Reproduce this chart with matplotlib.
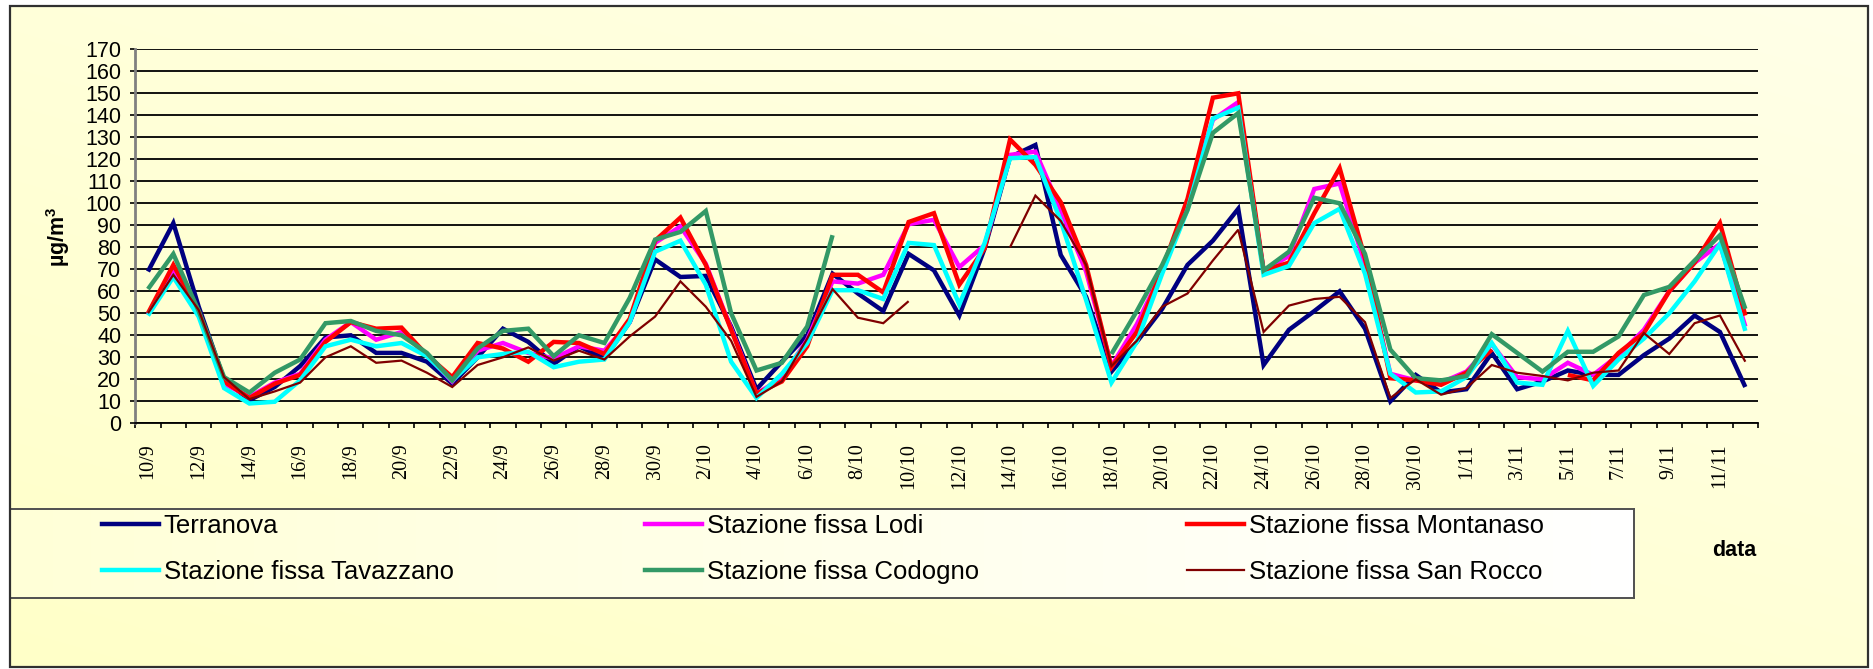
import numpy as np
import matplotlib
matplotlib.use("Agg")
import matplotlib.pyplot as plt
from matplotlib.patches import Rectangle
from matplotlib.lines import Line2D

plt.rcParams["mathtext.fontset"] = "custom"
plt.rcParams["mathtext.rm"] = "Liberation Sans"
plt.rcParams["mathtext.bf"] = "Liberation Sans:bold"

nan = np.nan

# ---- categories (daily, 10/9 .. 12/11) ----
dates = (["%d/9" % d for d in range(10, 31)] +
         ["%d/10" % d for d in range(1, 32)] +
         ["%d/11" % d for d in range(1, 13)])

# ---- series values (µg/m³) ----
terranova = [69, 91, 53, 20, 10.5, 16.5, 26, 39, 40, 32, 32, 28, 18, 30, 43, 37, 27, 35, 29.5, 46,
             74.5, 66.5, 67, 44, 15.5, 28, 40, 68, 59, 51, 77, 69.5, 49, 79.5, 121, 126.5, 76.5, 57.5, 23.5, 37,
             52, 72, 83, 97.5, 26.5, 42.5, 51, 60, 43, 10, 22, 14, 15.5, 32, 15.5, 19, 24, 22, 22, 31,
             38.5, 49, 41.5, 16.5]
lodi = [49.5, 69.5, 50, 18, 12, 18.5, 22.5, 38, 46, 38, 41.5, 31, 19, 33, 36.5, 32, 29.5, 35, 33, 46,
        82, 89.5, 72.5, 43, 13.5, 20.5, 38, 64.5, 63.5, 67.5, 90.5, 92.5, 71, 81, 122, 123.5, 97, 69, 26, 45,
        69, 100, 138, 146, 69.5, 76, 106.5, 109, 72, 22.5, 19.5, 18.5, 23.5, 36, 21, 20, 27.5, 22, 31, 42.5,
        60, 73, 81.5, 44]
montanaso = [50, 72, 51, 19, 11.5, 18, 22, 37, 46, 43, 43.5, 31, 21, 36.5, 34, 28, 37, 36.5, 31.5, 47.5,
             83, 93.5, 72, 42.5, 13.5, 19, 35, 67.5, 67.5, 59.5, 91.5, 95.5, 63, 79.5, 129, 117.5, 100.5, 72, 25.5, 41.5,
             70, 102, 148, 150, 69.5, 73, 95.5, 116, 75, 20.5, 19.5, 17.5, 23, 33.5, nan, nan, 22, 19.5, 32, 41,
             60, 73, 91, 49]
tavazzano = [49, 66.5, 48.5, 16, 9, 9.8, 19.5, 35, 38, 35, 36.5, 30.5, 19.5, 30, 31.5, 32.5, 25.5, 28, 29, 46,
             78, 83, 63, 28, 11.5, 22.5, 36.5, 60.5, 60.5, 56.5, 82, 81, 54, 82, 120.5, 121, 92, 56, 18.5, 37,
             68, 97, 138.5, 143.5, 67.5, 71.5, 91, 97.5, 68, 22.5, 14, 14.5, 21, 36.5, 18.5, 17.5, 42, 17, 29, 38.5,
             50, 64.5, 81.5, 42]
codogno = [61, 77, 51, 21, 14, 23, 29, 45.5, 46.5, 42, 40, 32, 19.5, 34, 42, 43, 30.5, 40, 36.5, 57,
           83.5, 87, 96.5, 50, 24, 27.5, 44, 85.5, nan, nan, nan, nan, nan, nan, nan, nan, nan, nan, 31.5, 51,
           72, 97, 132, 141, 69.5, 78, 102.5, 100, 77, 33.5, 20.5, 19.5, 21.5, 40.5, 32, 23.5, 32.5, 32.5, 39.5, 58.3,
           62, 74, 85.5, 52]
san_rocco = [50, 67.5, 51.5, 21, 11, 14.5, 18.5, 30, 35, 27.5, 28.5, 23, 16.5, 26.5, 30, 34.5, 28.5, 33, 29, 39.5,
             48.5, 64.5, 53, 37.5, 12, 19, 38.5, 61, 48, 45.5, 55.5, nan, nan, nan, 80, 103.5, 92, 72, 26, 37.5,
             53, 59, 74, 88, 41.5, 53.5, 56.5, 57.5, 46, 11.5, 20, 13, 16, 26.5, 23, 21.5, 19.5, 23, 24, 41,
             31.5, 45.5, 49, 28]

series_names = ["Terranova", "Stazione fissa Lodi", "Stazione fissa Montanaso",
                "Stazione fissa Tavazzano", "Stazione fissa Codogno", "Stazione fissa San Rocco"]
series_values = [terranova, lodi, montanaso, tavazzano, codogno, san_rocco]
series_colors = ["#000080", "#FF00FF", "#FF0000", "#00FFFF", "#339966", "#800000"]
series_widths = [3.2, 3.2, 3.2, 3.2, 3.2, 1.6]

yticks = list(range(0, 171, 10))

# ---- figure ----
W, H = 1874, 669
fig = plt.figure(figsize=(W / 100, H / 100), dpi=100, facecolor="white")


def fx(px):
    return px / W


def fy(py):
    return 1 - py / H


# background gradient inside outer frame
L, T, R, B = 10, 6, 1868, 667
bg = fig.add_axes([fx(L), fy(B), fx(R) - fx(L), fy(T) - fy(B)], zorder=-10)
gy, gx = np.mgrid[0:1:200j, 0:1:400j]
s = np.clip(0.55 * gy + 0.45 * (1 - gx), 0, 1)
c0 = np.array([255, 255, 232]) / 255.0
c1 = np.array([255, 255, 200]) / 255.0
img = c0[None, None, :] * (1 - s[..., None]) + c1[None, None, :] * s[..., None]
bg.imshow(img, aspect="auto", extent=(0, 1, 1, 0), interpolation="bilinear")
bg.set_xlim(0, 1)
bg.set_ylim(1, 0)
bg.axis("off")
fig.patches.append(Rectangle((fx(L), fy(B)), fx(R) - fx(L), fy(T) - fy(B), transform=fig.transFigure,
                             fill=False, edgecolor="#303030", linewidth=1.6, zorder=5))

# main axes
ax = fig.add_axes([fx(135.3), fy(423.3), fx(1758) - fx(135.3), fy(49.3) - fy(423.3)])
ax.set_facecolor("none")
x = np.arange(len(dates))
for name, vals, col, lw in zip(series_names, series_values, series_colors, series_widths):
    ax.plot(x, np.array(vals, dtype=float), color=col, linewidth=lw, label=name,
            solid_joinstyle="miter", solid_capstyle="butt", zorder=3)

ax.set_xlim(-0.5, len(dates) - 0.5)
ax.set_ylim(0, 170)
ax.set_yticks(yticks)
ax.set_yticklabels([str(v) for v in yticks], fontfamily="Liberation Sans", fontsize=15.5)
ax.yaxis.grid(True, color="black", linewidth=1.3)
ax.set_axisbelow(True)
ax.tick_params(axis="y", direction="out", length=3.6, width=1.2, color="black", pad=6.5)

ax.set_xticks(x[::2])
ax.set_xticklabels(dates[::2], rotation=90, fontfamily="Liberation Serif", fontsize=14.5)
ax.set_xticks(np.arange(-0.5, len(dates), 1), minor=True)
ax.tick_params(axis="x", which="major", length=0, pad=14.5)
ax.tick_params(axis="x", which="minor", direction="out", length=3.6, width=1.2, color="black")

for sp in ["top", "right"]:
    ax.spines[sp].set_visible(False)
ax.spines["left"].set_color("#808080")
ax.spines["left"].set_linewidth(2)
ax.spines["bottom"].set_color("black")
ax.spines["bottom"].set_linewidth(1.3)

fig.text(fx(58), fy(237), r"µg/m$^{\mathbf{3}}$", rotation=90, ha="center", va="center",
         fontfamily="Liberation Sans", fontweight="bold", fontsize=15.5)
fig.text(fx(1734), fy(550), "data", ha="center", va="center",
         fontfamily="Liberation Sans", fontweight="bold", fontsize=15.5)

# legend box with gradient
LL, LT, LR, LB = 10, 509, 1634, 598
lax = fig.add_axes([fx(LL), fy(LB), fx(LR) - fx(LL), fy(LT) - fy(LB)], zorder=1)
lg = np.linspace(0, 1, 300)[None, :]
lc0 = np.array([255, 255, 215]) / 255.0
lc1 = np.array([255, 255, 255]) / 255.0
limg = lc0[None, None, :] * (1 - lg[..., None]) + lc1[None, None, :] * lg[..., None]
lax.imshow(np.repeat(limg, 2, axis=0), aspect="auto", extent=(0, 1, 0, 1))
lax.set_xlim(0, 1)
lax.set_ylim(0, 1)
lax.set_xticks([])
lax.set_yticks([])
for sp in lax.spines.values():
    sp.set_color("#505050")
    sp.set_linewidth(1.4)

handles = {n: Line2D([], [], color=c, linewidth=lw) for n, c, lw in zip(series_names, series_colors, series_widths)}
columns = [(102, [series_names[0], series_names[3]]),
           (645, [series_names[1], series_names[4]]),
           (1187, [series_names[2], series_names[5]])]
for xs, names in columns:
    leg = fig.legend([handles[n] for n in names], names, loc="upper left",
                     bbox_to_anchor=(fx(xs), fy(514)), bbox_transform=fig.transFigure,
                     frameon=False, ncol=1, borderpad=0, borderaxespad=0,
                     handlelength=2.2, handletextpad=0.2, labelspacing=0.85,
                     prop={"family": "Liberation Sans", "size": 18.5})
    leg.set_zorder(6)

fig.savefig("out.png", dpi=100, facecolor="white")
